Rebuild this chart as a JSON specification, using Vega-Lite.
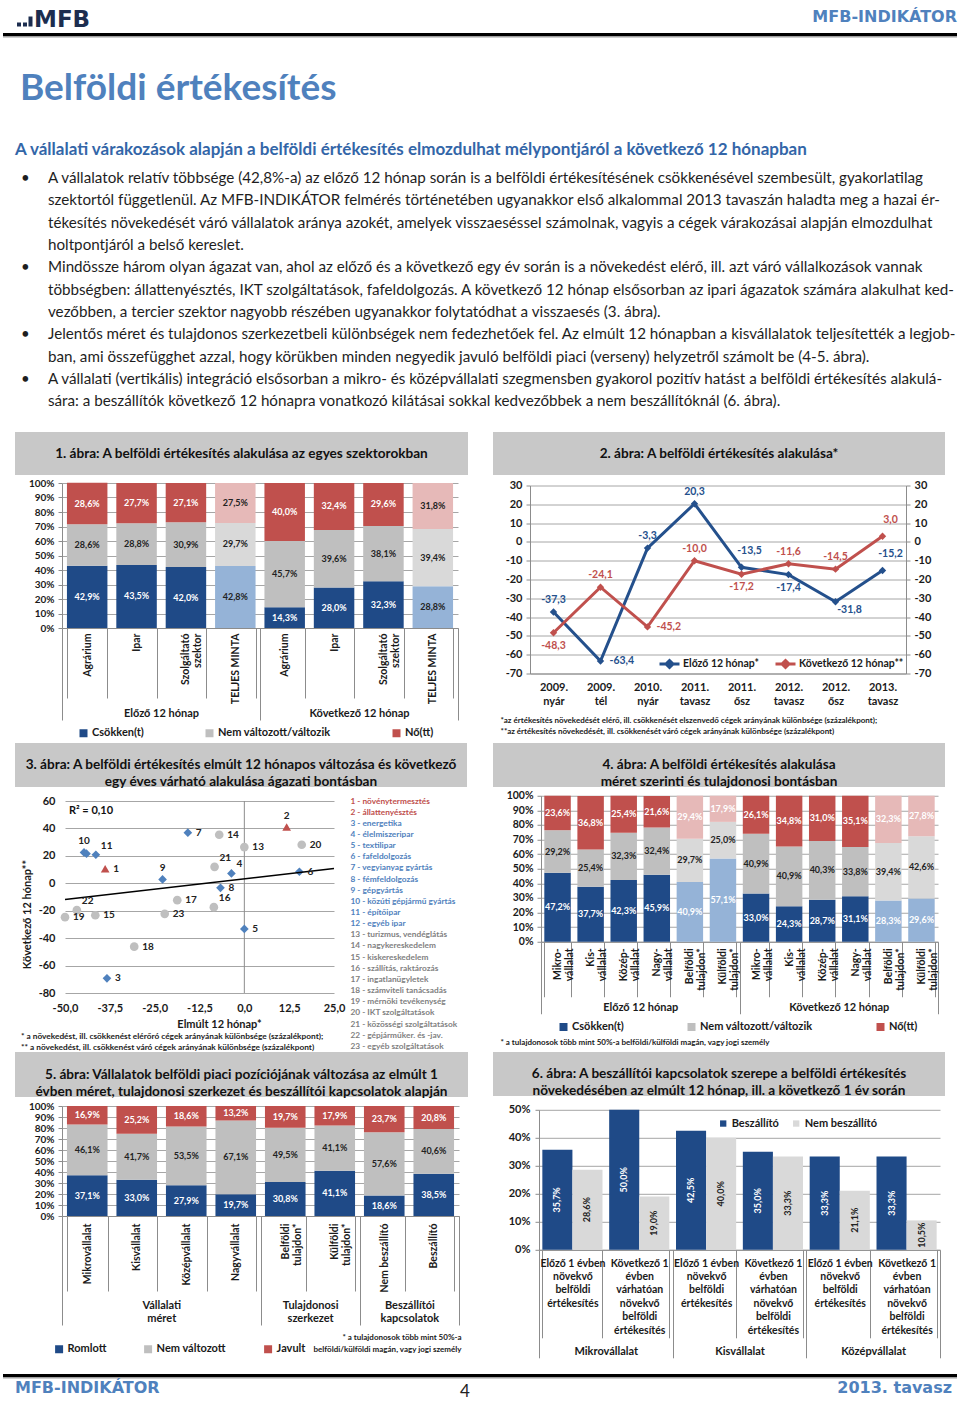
{
  "$schema": "https://vega.github.io/schema/vega-lite/v6.json",
  "background": "white",
  "padding": 0,
  "spacing": 0,
  "align": "none",
  "resolve": {"scale": {"color": "independent", "fill": "independent", "shape": "independent"}},
  "datasets": {
    "body": [
      {"line": 1, "t": "A vállalatok relatív többsége (42,8%-a) az előző 12 hónap során is a belföldi értékesítésének csökkenésével szembesült, gyakorlatilag"},
      {"line": 2, "t": "szektortól függetlenül. Az MFB-INDIKÁTOR felmérés történetében ugyanakkor első alkalommal 2013 tavaszán haladta meg a hazai ér-"},
      {"line": 3, "t": "tékesítés növekedését váró vállalatok aránya azokét, amelyek visszaeséssel számolnak, vagyis a cégek várakozásai alapján elmozdulhat"},
      {"line": 4, "t": "holtpontjáról a belső kereslet."},
      {"line": 5, "t": "Mindössze három olyan ágazat van, ahol az előző és a következő egy év során is a növekedést elérő, ill. azt váró vállalkozások vannak"},
      {"line": 6, "t": "többségben: állattenyésztés, IKT szolgáltatások, fafeldolgozás. A következő 12 hónap elsősorban az ipari ágazatok számára alakulhat ked-"},
      {"line": 7, "t": "vezőbben, a tercier szektor nagyobb részében ugyanakkor folytatódhat a visszaesés (3. ábra)."},
      {"line": 8, "t": "Jelentős méret és tulajdonos szerkezetbeli különbségek nem fedezhetőek fel. Az elmúlt 12 hónapban a kisvállalatok teljesítették a legjob-"},
      {"line": 9, "t": "ban, ami összefügghet azzal, hogy körükben minden negyedik javuló belföldi piaci (verseny) helyzetről számolt be (4-5. ábra)."},
      {"line": 10, "t": "A vállalati (vertikális) integráció elsősorban a mikro- és középvállalati szegmensben gyakorol pozitív hatást a belföldi értékesítés alakulá-"},
      {"line": 11, "t": "sára: a beszállítók következő 12 hónapra vonatkozó kilátásai sokkal kedvezőbbek a nem beszállítóknál (6. ábra)."}
    ],
    "c1": [
      {"k": "E|Agrárium", "s": "Csökken(t)", "v": 0.429},
      {"k": "E|Agrárium", "s": "Nem változott/változik", "v": 0.286},
      {"k": "E|Agrárium", "s": "Nő(tt)", "v": 0.286},
      {"k": "E|Ipar", "s": "Csökken(t)", "v": 0.435},
      {"k": "E|Ipar", "s": "Nem változott/változik", "v": 0.288},
      {"k": "E|Ipar", "s": "Nő(tt)", "v": 0.277},
      {"k": "E|Szolgáltató~szektor", "s": "Csökken(t)", "v": 0.420},
      {"k": "E|Szolgáltató~szektor", "s": "Nem változott/változik", "v": 0.309},
      {"k": "E|Szolgáltató~szektor", "s": "Nő(tt)", "v": 0.271},
      {"k": "E|TELJES MINTA", "s": "Csökken(t) – teljes minta", "v": 0.428},
      {"k": "E|TELJES MINTA", "s": "Nem változott/változik – teljes minta", "v": 0.297},
      {"k": "E|TELJES MINTA", "s": "Nő(tt) – teljes minta", "v": 0.275},
      {"k": "K|Agrárium", "s": "Csökken(t)", "v": 0.143},
      {"k": "K|Agrárium", "s": "Nem változott/változik", "v": 0.457},
      {"k": "K|Agrárium", "s": "Nő(tt)", "v": 0.400},
      {"k": "K|Ipar", "s": "Csökken(t)", "v": 0.280},
      {"k": "K|Ipar", "s": "Nem változott/változik", "v": 0.396},
      {"k": "K|Ipar", "s": "Nő(tt)", "v": 0.324},
      {"k": "K|Szolgáltató~szektor", "s": "Csökken(t)", "v": 0.323},
      {"k": "K|Szolgáltató~szektor", "s": "Nem változott/változik", "v": 0.381},
      {"k": "K|Szolgáltató~szektor", "s": "Nő(tt)", "v": 0.296},
      {"k": "K|TELJES MINTA", "s": "Csökken(t) – teljes minta", "v": 0.288},
      {"k": "K|TELJES MINTA", "s": "Nem változott/változik – teljes minta", "v": 0.394},
      {"k": "K|TELJES MINTA", "s": "Nő(tt) – teljes minta", "v": 0.318}
    ],
    "c2": [
      {"p": "2009.~nyár", "s": "Előző 12 hónap*", "v": -37.3, "id": "E1"},
      {"p": "2009.~tél", "s": "Előző 12 hónap*", "v": -63.4, "id": "E2"},
      {"p": "2010.~nyár", "s": "Előző 12 hónap*", "v": -3.3, "id": "E3"},
      {"p": "2011.~tavasz", "s": "Előző 12 hónap*", "v": 20.3, "id": "E4"},
      {"p": "2011.~ősz", "s": "Előző 12 hónap*", "v": -13.5, "id": "E5"},
      {"p": "2012.~tavasz", "s": "Előző 12 hónap*", "v": -17.4, "id": "E6"},
      {"p": "2012.~ősz", "s": "Előző 12 hónap*", "v": -31.8, "id": "E7"},
      {"p": "2013.~tavasz", "s": "Előző 12 hónap*", "v": -15.2, "id": "E8"},
      {"p": "2009.~nyár", "s": "Következő 12 hónap**", "v": -48.3, "id": "K1"},
      {"p": "2009.~tél", "s": "Következő 12 hónap**", "v": -24.1, "id": "K2"},
      {"p": "2010.~nyár", "s": "Következő 12 hónap**", "v": -45.2, "id": "K3"},
      {"p": "2011.~tavasz", "s": "Következő 12 hónap**", "v": -10.0, "id": "K4"},
      {"p": "2011.~ősz", "s": "Következő 12 hónap**", "v": -17.2, "id": "K5"},
      {"p": "2012.~tavasz", "s": "Következő 12 hónap**", "v": -11.6, "id": "K6"},
      {"p": "2012.~ősz", "s": "Következő 12 hónap**", "v": -14.5, "id": "K7"},
      {"p": "2013.~tavasz", "s": "Következő 12 hónap**", "v": 3.0, "id": "K8"}
    ],
    "s3": [
      {"id": 1, "x": -38.8, "y": 10.6, "g": "Agrár", "lab": "1 - növénytermesztés"},
      {"id": 2, "x": 11.8, "y": 41.0, "g": "Agrár", "lab": "2 - állattenyésztés"},
      {"id": 3, "x": -38.3, "y": -69.3, "g": "Ipar", "lab": "3 - energetika"},
      {"id": 4, "x": -3.6, "y": 7.2, "g": "Ipar", "lab": "4 - élelmiszeripar"},
      {"id": 5, "x": 0.0, "y": -33.3, "g": "Ipar", "lab": "5 - textilipar"},
      {"id": 6, "x": 15.35, "y": 8.4, "g": "Ipar", "lab": "6 - fafeldolgozás"},
      {"id": 7, "x": -15.75, "y": 36.9, "g": "Ipar", "lab": "7 - vegyianyag gyártás"},
      {"id": 8, "x": -6.65, "y": -3.3, "g": "Ipar", "lab": "8 - fémfeldolgozás"},
      {"id": 9, "x": -22.8, "y": 2.8, "g": "Ipar", "lab": "9 - gépgyártás"},
      {"id": 10, "x": -44.7, "y": 22.5, "g": "Ipar", "lab": "10 - közúti gépjármű gyártás"},
      {"id": 11, "x": -41.4, "y": 20.8, "g": "Ipar", "lab": "11 - építőipar"},
      {"id": 12, "x": -44.0, "y": 21.6, "g": "Ipar", "lab": "12 - egyéb ipar"},
      {"id": 13, "x": 0.0, "y": 26.4, "g": "Szolgáltatás", "lab": "13 - turizmus, vendéglátás"},
      {"id": 14, "x": -7.0, "y": 35.4, "g": "Szolgáltatás", "lab": "14 - nagykereskedelem"},
      {"id": 15, "x": -41.55, "y": -23.3, "g": "Szolgáltatás", "lab": "15 - kiskereskedelem"},
      {"id": 16, "x": -8.5, "y": -17.4, "g": "Szolgáltatás", "lab": "16 - szállítás, raktározás"},
      {"id": 17, "x": -18.7, "y": -12.3, "g": "Szolgáltatás", "lab": "17 - ingatlanügyletek"},
      {"id": 18, "x": -30.7, "y": -46.2, "g": "Szolgáltatás", "lab": "18 - számviteli tanácsadás"},
      {"id": 19, "x": -50.0, "y": -24.7, "g": "Szolgáltatás", "lab": "19 - mérnöki tevékenység"},
      {"id": 20, "x": 16.0, "y": 28.1, "g": "Szolgáltatás", "lab": "20 - IKT szolgáltatások"},
      {"id": 21, "x": -8.3, "y": 12.0, "g": "Szolgáltatás", "lab": "21 - közösségi szolgáltatások"},
      {"id": 22, "x": -46.7, "y": -19.6, "g": "Szolgáltatás", "lab": "22 - gépjárműker. és -jav."},
      {"id": 23, "x": -22.2, "y": -22.3, "g": "Szolgáltatás", "lab": "23 - egyéb szolgáltatások"}
    ],
    "c4": [
      {"k": "E|Mikro-~vállalat", "s": "Csökken(t)", "v": 0.472},
      {"k": "E|Mikro-~vállalat", "s": "Nem változott/változik", "v": 0.292},
      {"k": "E|Mikro-~vállalat", "s": "Nő(tt)", "v": 0.236},
      {"k": "E|Kis-~vállalat", "s": "Csökken(t)", "v": 0.377},
      {"k": "E|Kis-~vállalat", "s": "Nem változott/változik", "v": 0.254},
      {"k": "E|Kis-~vállalat", "s": "Nő(tt)", "v": 0.368},
      {"k": "E|Közép-~vállalat", "s": "Csökken(t)", "v": 0.423},
      {"k": "E|Közép-~vállalat", "s": "Nem változott/változik", "v": 0.323},
      {"k": "E|Közép-~vállalat", "s": "Nő(tt)", "v": 0.254},
      {"k": "E|Nagy-~vállalat", "s": "Csökken(t)", "v": 0.459},
      {"k": "E|Nagy-~vállalat", "s": "Nem változott/változik", "v": 0.324},
      {"k": "E|Nagy-~vállalat", "s": "Nő(tt)", "v": 0.216},
      {"k": "E|Belföldi~tulajdon*", "s": "Csökken(t) – tulajdon", "v": 0.409},
      {"k": "E|Belföldi~tulajdon*", "s": "Nem változott/változik – tulajdon", "v": 0.297},
      {"k": "E|Belföldi~tulajdon*", "s": "Nő(tt) – tulajdon", "v": 0.294},
      {"k": "E|Külföldi~tulajdon*", "s": "Csökken(t) – tulajdon", "v": 0.571},
      {"k": "E|Külföldi~tulajdon*", "s": "Nem változott/változik – tulajdon", "v": 0.250},
      {"k": "E|Külföldi~tulajdon*", "s": "Nő(tt) – tulajdon", "v": 0.179},
      {"k": "K|Mikro-~vállalat", "s": "Csökken(t)", "v": 0.330},
      {"k": "K|Mikro-~vállalat", "s": "Nem változott/változik", "v": 0.409},
      {"k": "K|Mikro-~vállalat", "s": "Nő(tt)", "v": 0.261},
      {"k": "K|Kis-~vállalat", "s": "Csökken(t)", "v": 0.243},
      {"k": "K|Kis-~vállalat", "s": "Nem változott/változik", "v": 0.409},
      {"k": "K|Kis-~vállalat", "s": "Nő(tt)", "v": 0.348},
      {"k": "K|Közép-~vállalat", "s": "Csökken(t)", "v": 0.287},
      {"k": "K|Közép-~vállalat", "s": "Nem változott/változik", "v": 0.403},
      {"k": "K|Közép-~vállalat", "s": "Nő(tt)", "v": 0.310},
      {"k": "K|Nagy-~vállalat", "s": "Csökken(t)", "v": 0.311},
      {"k": "K|Nagy-~vállalat", "s": "Nem változott/változik", "v": 0.338},
      {"k": "K|Nagy-~vállalat", "s": "Nő(tt)", "v": 0.351},
      {"k": "K|Belföldi~tulajdon*", "s": "Csökken(t) – tulajdon", "v": 0.283},
      {"k": "K|Belföldi~tulajdon*", "s": "Nem változott/változik – tulajdon", "v": 0.394},
      {"k": "K|Belföldi~tulajdon*", "s": "Nő(tt) – tulajdon", "v": 0.323},
      {"k": "K|Külföldi~tulajdon*", "s": "Csökken(t) – tulajdon", "v": 0.296},
      {"k": "K|Külföldi~tulajdon*", "s": "Nem változott/változik – tulajdon", "v": 0.426},
      {"k": "K|Külföldi~tulajdon*", "s": "Nő(tt) – tulajdon", "v": 0.278}
    ],
    "c5": [
      {"k": "Mikrovállalat", "s": "Romlott", "v": 0.371},
      {"k": "Mikrovállalat", "s": "Nem változott", "v": 0.461},
      {"k": "Mikrovállalat", "s": "Javult", "v": 0.169},
      {"k": "Kisvállalat", "s": "Romlott", "v": 0.330},
      {"k": "Kisvállalat", "s": "Nem változott", "v": 0.417},
      {"k": "Kisvállalat", "s": "Javult", "v": 0.252},
      {"k": "Középvállalat", "s": "Romlott", "v": 0.279},
      {"k": "Középvállalat", "s": "Nem változott", "v": 0.535},
      {"k": "Középvállalat", "s": "Javult", "v": 0.186},
      {"k": "Nagyvállalat", "s": "Romlott", "v": 0.197},
      {"k": "Nagyvállalat", "s": "Nem változott", "v": 0.671},
      {"k": "Nagyvállalat", "s": "Javult", "v": 0.132},
      {"k": "Belföldi~tulajdon*", "s": "Romlott", "v": 0.308},
      {"k": "Belföldi~tulajdon*", "s": "Nem változott", "v": 0.495},
      {"k": "Belföldi~tulajdon*", "s": "Javult", "v": 0.197},
      {"k": "Külföldi~tulajdon*", "s": "Romlott", "v": 0.411},
      {"k": "Külföldi~tulajdon*", "s": "Nem változott", "v": 0.411},
      {"k": "Külföldi~tulajdon*", "s": "Javult", "v": 0.179},
      {"k": "Nem beszállító", "s": "Romlott", "v": 0.186},
      {"k": "Nem beszállító", "s": "Nem változott", "v": 0.576},
      {"k": "Nem beszállító", "s": "Javult", "v": 0.237},
      {"k": "Beszállító", "s": "Romlott", "v": 0.385},
      {"k": "Beszállító", "s": "Nem változott", "v": 0.406},
      {"k": "Beszállító", "s": "Javult", "v": 0.208}
    ],
    "g5": [
      {"g": "Vállalati méret", "n": 4},
      {"g": "Tulajdonosi szerkezet", "n": 2},
      {"g": "Beszállítói kapcsolatok", "n": 2}
    ],
    "c6": [
      {"k": "M|Előző 1 évben~növekvő~belföldi~értékesítés", "g": "Mikrovállalat", "s": "Beszállító", "v": 0.357},
      {"k": "M|Előző 1 évben~növekvő~belföldi~értékesítés", "g": "Mikrovállalat", "s": "Nem beszállító", "v": 0.286},
      {"k": "M|Következő 1~évben~várhatóan~növekvő~belföldi~értékesítés", "g": "Mikrovállalat", "s": "Beszállító", "v": 0.500},
      {"k": "M|Következő 1~évben~várhatóan~növekvő~belföldi~értékesítés", "g": "Mikrovállalat", "s": "Nem beszállító", "v": 0.190},
      {"k": "K|Előző 1 évben~növekvő~belföldi~értékesítés", "g": "Kisvállalat", "s": "Beszállító", "v": 0.425},
      {"k": "K|Előző 1 évben~növekvő~belföldi~értékesítés", "g": "Kisvállalat", "s": "Nem beszállító", "v": 0.400},
      {"k": "K|Következő 1~évben~várhatóan~növekvő~belföldi~értékesítés", "g": "Kisvállalat", "s": "Beszállító", "v": 0.350},
      {"k": "K|Következő 1~évben~várhatóan~növekvő~belföldi~értékesítés", "g": "Kisvállalat", "s": "Nem beszállító", "v": 0.333},
      {"k": "Z|Előző 1 évben~növekvő~belföldi~értékesítés", "g": "Középvállalat", "s": "Beszállító", "v": 0.333},
      {"k": "Z|Előző 1 évben~növekvő~belföldi~értékesítés", "g": "Középvállalat", "s": "Nem beszállító", "v": 0.211},
      {"k": "Z|Következő 1~évben~várhatóan~növekvő~belföldi~értékesítés", "g": "Középvállalat", "s": "Beszállító", "v": 0.333},
      {"k": "Z|Következő 1~évben~várhatóan~növekvő~belföldi~értékesítés", "g": "Középvállalat", "s": "Nem beszállító", "v": 0.105}
    ]
  },
  "vconcat": [
    {
      "width": 960, "height": 432,
      "data": {"values": [{}]},
      "layer": [
        {"mark": {"type": "rect", "x": 17, "x2": 21, "y": 22.5, "y2": 26.5, "color": "#1c2d4f"}, "encoding": {}},
        {"mark": {"type": "rect", "x": 23, "x2": 27, "y": 22.5, "y2": 26.5, "color": "#1c2d4f"}, "encoding": {}},
        {"mark": {"type": "rect", "x": 28.5, "x2": 32.5, "y": 16.5, "y2": 26.5, "color": "#1c2d4f"}, "encoding": {}},
        {"mark": {"type": "text", "x": 34, "y": 26.7, "align": "left", "baseline": "alphabetic", "text": "MFB", "font": "DejaVu Sans", "fontWeight": "bold", "fontSize": 23, "color": "#1c2d4f"}, "encoding": {}},
        {"mark": {"type": "text", "x": 957, "y": 17, "align": "right", "baseline": "middle", "text": "MFB-INDIKÁTOR", "font": "DejaVu Sans", "fontWeight": "bold", "fontSize": 16, "color": "#4f81bd"}, "encoding": {}},
        {"mark": {"type": "rect", "x": 3, "x2": 957, "y": 33, "y2": 36, "color": "#000000"}, "encoding": {}},
        {"mark": {"type": "rect", "x": 3, "x2": 957, "y": 36, "y2": 37.5, "color": "#a0a0a0"}, "encoding": {}},
        {"mark": {"type": "text", "x": 20, "y": 100, "align": "left", "baseline": "alphabetic", "text": "Belföldi értékesítés", "fontWeight": "bold", "fontSize": 37, "color": "#4f81bd"}, "encoding": {}},
        {"mark": {"type": "text", "x": 15, "y": 150, "align": "left", "baseline": "middle", "text": "A vállalati várakozások alapján a belföldi értékesítés elmozdulhat mélypontjáról a következő 12 hónapban", "fontWeight": "bold", "fontSize": 17, "color": "#3366a8"}, "encoding": {}},
        {
          "data": {"name": "body"},
          "mark": {"type": "text", "x": 48, "align": "left", "baseline": "middle", "fontSize": 15.2, "color": "#1e1e1e"},
          "encoding": {
            "y": {"field": "line", "type": "quantitative", "scale": {"domain": [1, 11], "range": [178, 401.3]}, "axis": null},
            "text": {"field": "t", "type": "nominal"}
          }
        },
        {
          "data": {"values": [{"line": 1}, {"line": 5}, {"line": 8}, {"line": 10}]},
          "mark": {"type": "text", "x": 21, "align": "left", "baseline": "middle", "text": "•", "fontSize": 15, "color": "#1e1e1e"},
          "encoding": {"y": {"field": "line", "type": "quantitative", "axis": null}}
        }
      ]
    },
    {
      "spacing": 14,
      "align": "none",
      "resolve": {"scale": {"color": "independent", "fill": "independent", "shape": "independent"}},
      "hconcat": [
        {"width": 1, "height": 311, "data": {"values": []}, "mark": "point", "encoding": {}},
        {
          "spacing": 25,
          "align": "none",
          "resolve": {"scale": {"color": "independent", "fill": "independent", "shape": "independent"}},
          "hconcat": [
            {
              "spacing": 3,
              "align": "none",
              "resolve": {"scale": {"color": "independent", "fill": "independent", "shape": "independent"}},
              "vconcat": [
                {
                  "width": 396, "height": 43,
                  "data": {"values": [{"t": "1. ábra: A belföldi értékesítés alakulása  az egyes szektorokban"}]},
                  "layer": [
                    {"mark": {"type": "rect", "x": -47, "x2": 406, "y": 0, "y2": 43, "color": "#c8c8c8"}, "encoding": {}},
                    {"mark": {"type": "text", "x": 179.5, "y": 21.5, "fontWeight": "bold", "fontSize": 13.6, "color": "#111111"}, "encoding": {"text": {"field": "t", "type": "nominal"}}}
                  ]
                },
                {
                  "width": 396, "height": 145,
                  "layer": [
                    {
                      "data": {"name": "c1"},
                      "transform": [{"stack": "v", "groupby": ["k"], "sort": [{"field": "s"}], "as": ["v0", "v1"]}],
                      "layer": [
                        {
                          "mark": {"type": "bar"},
                          "encoding": {
                            "x": {"field": "k", "type": "nominal", "sort": null, "title": null, "scale": {"paddingInner": 0.18, "paddingOuter": 0.1},
                              "axis": {"labelAngle": -90, "labelAlign": "right", "labelBaseline": "middle", "labelExpr": "split(slice(datum.label, 2), '~')", "labelFontSize": 10.5, "labelLineHeight": 12, "tickBand": "extent", "tickSize": 70, "labelPadding": -65, "labelOverlap": false, "labelLimit": 0}},
                            "y": {"field": "v0", "type": "quantitative", "title": null, "scale": {"domain": [0, 1], "nice": false},
                              "axis": {"format": ".0%", "values": [0, 0.1, 0.2, 0.3, 0.4, 0.5, 0.6, 0.7, 0.8, 0.9, 1], "tickCount": 20, "tickSize": 4, "labelPadding": 4, "labelFontSize": 10, "grid": true, "labelOverlap": false, "minExtent": 47, "maxExtent": 47}},
                            "y2": {"field": "v1"},
                            "color": {"field": "s", "type": "nominal",
                              "scale": {"domain": ["Csökken(t)", "Nem változott/változik", "Nő(tt)", "Csökken(t) – teljes minta", "Nem változott/változik – teljes minta", "Nő(tt) – teljes minta"], "range": ["#1f4a87", "#bfbfbf", "#c0504d", "#95b3d7", "#d9d9d9", "#e6b9b8"]},
                              "legend": {"orient": "none", "legendX": 16, "legendY": 244.5, "direction": "horizontal", "title": null, "values": ["Csökken(t)", "Nem változott/változik", "Nő(tt)"], "symbolType": "square", "symbolSize": 64, "symbolStrokeWidth": 0, "labelFontSize": 11, "labelFontWeight": "bold", "columnPadding": 60, "padding": 0, "labelOffset": 3}}
                          }
                        },
                        {
                          "transform": [{"fold": ["v0", "v1"], "as": ["end", "pos"]}],
                          "mark": {"type": "text", "fontWeight": "bold", "fontSize": 9},
                          "encoding": {
                            "x": {"field": "k", "type": "nominal", "sort": null, "title": null},
                            "y": {"field": "pos", "type": "quantitative", "aggregate": "mean", "title": null},
                            "text": {"field": "v", "type": "quantitative", "format": ".1%"},
                            "fill": {"field": "s", "type": "nominal",
                              "scale": {"domain": ["Csökken(t)", "Nem változott/változik", "Nő(tt)", "Csökken(t) – teljes minta", "Nem változott/változik – teljes minta", "Nő(tt) – teljes minta"], "range": ["#ffffff", "#222222", "#ffffff", "#222222", "#222222", "#222222"]},
                              "legend": null}
                          }
                        }
                      ]
                    },
                    {
                      "data": {"values": [{"g": "Előző 12 hónap"}, {"g": "Következő 12 hónap"}]},
                      "mark": {"type": "tick", "opacity": 0},
                      "encoding": {
                        "x": {"field": "g", "type": "nominal", "sort": null, "title": null, "scale": {"type": "band", "paddingInner": 0, "paddingOuter": 0},
                          "axis": {"orient": "bottom", "domain": false, "labelAngle": 0, "tickBand": "extent", "tickSize": 92, "labelPadding": -13, "labelFontSize": 11, "labelOverlap": false}},
                        "y": {"datum": 0, "type": "quantitative", "title": null,
                          "axis": {"format": ".0%", "values": [0, 0.1, 0.2, 0.3, 0.4, 0.5, 0.6, 0.7, 0.8, 0.9, 1], "tickCount": 20, "tickSize": 4, "labelPadding": 4, "labelFontSize": 10, "grid": true, "labelOverlap": false, "minExtent": 47, "maxExtent": 47}}
                      }
                    }
                  ],
                  "resolve": {"scale": {"x": "independent"}, "axis": {"x": "independent"}}
                }
              ]
            },
            {
              "spacing": 4.5,
              "align": "none",
              "resolve": {"scale": {"color": "independent", "fill": "independent", "shape": "independent"}},
              "vconcat": [
                {
                  "width": 376, "height": 43,
                  "data": {"values": [{"t": "2. ábra: A belföldi értékesítés alakulása*"}]},
                  "layer": [
                    {"mark": {"type": "rect", "x": -37, "x2": 415, "y": 0, "y2": 43, "color": "#c8c8c8"}, "encoding": {}},
                    {"mark": {"type": "text", "x": 189, "y": 21.5, "fontWeight": "bold", "fontSize": 13.6, "color": "#111111"}, "encoding": {"text": {"field": "t", "type": "nominal"}}}
                  ]
                },
                {
                  "width": 376, "height": 188,
                  "data": {"name": "c2"},
                  "layer": [
                    {
                      "mark": {"type": "line", "strokeWidth": 3, "point": {"shape": "diamond", "filled": true, "size": 55}},
                      "encoding": {
                        "x": {"field": "p", "type": "ordinal", "sort": null,
                          "title": ["*az értékesítés növekedését elérő, ill. csökkenését elszenvedő cégek arányának különbsége (százalékpont);", "**az értékesítés növekedését, ill. csökkenését váró cégek arányának különbsége (százalékpont)"],
                          "scale": {"type": "point", "padding": 0.5},
                          "axis": {"labelAngle": 0, "labelExpr": "split(datum.label, '~')", "labelFontSize": 11, "labelLineHeight": 14, "ticks": false, "labelPadding": 8, "labelOverlap": false, "titleFontSize": 8, "titleFontWeight": "bold", "titleAnchor": "start", "titleAlign": "left", "titleX": -30, "titlePadding": 10, "titleLineHeight": 11, "titleLimit": 1000}},
                        "y": {"field": "v", "type": "quantitative", "title": null, "scale": {"domain": [-70, 30], "nice": false, "zero": false},
                          "axis": {"values": [-70, -60, -50, -40, -30, -20, -10, 0, 10, 20, 30], "tickCount": 20, "tickSize": 4, "labelPadding": 4, "labelFontSize": 11, "grid": true, "labelOverlap": false, "minExtent": 37, "maxExtent": 37}},
                        "color": {"field": "s", "type": "nominal", "scale": {"domain": ["Előző 12 hónap*", "Következő 12 hónap**"], "range": ["#24508c", "#c0504d"]},
                          "legend": {"orient": "none", "legendX": 128, "legendY": 167, "direction": "horizontal", "title": null, "symbolType": "M-1,0H1M0,-0.35L0.35,0L0,0.35L-0.35,0Z", "symbolSize": 400, "symbolStrokeWidth": 3, "labelFontSize": 10.5, "labelFontWeight": "bold", "columnPadding": 10, "padding": 0, "labelOffset": 2}}
                      }
                    },
                    {
                      "transform": [{"filter": {"field": "id", "oneOf": ["E1", "E3", "E4", "K2", "K4", "K6", "K7"]}}],
                      "mark": {"type": "text", "dy": -12, "fontWeight": "bold", "fontSize": 10.5},
                      "encoding": {
                        "x": {"field": "p", "type": "ordinal", "sort": null},
                        "y": {"field": "v", "type": "quantitative", "title": null, "axis": {"orient": "right", "values": [-70, -60, -50, -40, -30, -20, -10, 0, 10, 20, 30], "tickCount": 20, "tickSize": 4, "labelPadding": 4, "labelFontSize": 11, "grid": false, "labelOverlap": false}},
                        "text": {"field": "v", "type": "quantitative", "format": ".1f"},
                        "fill": {"field": "s", "type": "nominal", "scale": {"domain": ["Előző 12 hónap*", "Következő 12 hónap**"], "range": ["#24508c", "#c0504d"]}, "legend": null}
                      }
                    },
                    {
                      "transform": [{"filter": {"field": "id", "oneOf": ["E5", "E8", "K8"]}}],
                      "mark": {"type": "text", "dy": -16, "dx": 8, "fontWeight": "bold", "fontSize": 10.5},
                      "encoding": {
                        "x": {"field": "p", "type": "ordinal", "sort": null},
                        "y": {"field": "v", "type": "quantitative", "title": null, "axis": null},
                        "text": {"field": "v", "type": "quantitative", "format": ".1f"},
                        "fill": {"field": "s", "type": "nominal", "legend": null}
                      }
                    },
                    {
                      "transform": [{"filter": {"field": "id", "oneOf": ["E6", "K1", "K5"]}}],
                      "mark": {"type": "text", "dy": 13, "fontWeight": "bold", "fontSize": 10.5},
                      "encoding": {
                        "x": {"field": "p", "type": "ordinal", "sort": null},
                        "y": {"field": "v", "type": "quantitative", "title": null, "axis": null},
                        "text": {"field": "v", "type": "quantitative", "format": ".1f"},
                        "fill": {"field": "s", "type": "nominal", "legend": null}
                      }
                    },
                    {
                      "transform": [{"filter": {"field": "id", "oneOf": ["E2", "K3"]}}],
                      "mark": {"type": "text", "dx": 9, "align": "left", "fontWeight": "bold", "fontSize": 10.5},
                      "encoding": {
                        "x": {"field": "p", "type": "ordinal", "sort": null},
                        "y": {"field": "v", "type": "quantitative", "title": null, "axis": null},
                        "text": {"field": "v", "type": "quantitative", "format": ".1f"},
                        "fill": {"field": "s", "type": "nominal", "legend": null}
                      }
                    },
                    {
                      "transform": [{"filter": {"field": "id", "oneOf": ["E7"]}}],
                      "mark": {"type": "text", "dx": 14, "dy": 8, "fontWeight": "bold", "fontSize": 10.5},
                      "encoding": {
                        "x": {"field": "p", "type": "ordinal", "sort": null},
                        "y": {"field": "v", "type": "quantitative", "title": null, "axis": null},
                        "text": {"field": "v", "type": "quantitative", "format": ".1f"},
                        "fill": {"field": "s", "type": "nominal", "legend": null}
                      }
                    }
                  ],
                  "resolve": {"axis": {"y": "independent"}}
                }
              ]
            }
          ]
        }
      ]
    },
    {
      "spacing": 14,
      "align": "none",
      "resolve": {"scale": {"color": "independent", "fill": "independent", "shape": "independent"}},
      "hconcat": [
        {"width": 1, "height": 309, "data": {"values": []}, "mark": "point", "encoding": {}},
        {
          "spacing": 26,
          "align": "none",
          "resolve": {"scale": {"color": "independent", "fill": "independent", "shape": "independent"}},
          "hconcat": [
            {
              "spacing": 6,
              "align": "none",
              "resolve": {"scale": {"color": "independent", "fill": "independent", "shape": "independent"}},
              "vconcat": [
                {"width": 452, "height": 44, "view": {"fill": "#c8c8c8", "stroke": null}, "data": {"values": [{"t": "3. ábra: A belföldi értékesítés elmúlt 12 hónapos  változása  és következő\negy éves várható  alakulása  ágazati  bontásban"}]}, "mark": {"type": "text", "fontWeight": "bold", "fontSize": 13.6, "color": "#111111", "lineBreak": "\n", "lineHeight": 17}, "encoding": {"text": {"field": "t", "type": "nominal"}}},
                {
                  "spacing": 5,
                  "align": "none",
                  "resolve": {"scale": {"color": "independent", "fill": "independent", "shape": "independent"}},
                  "hconcat": [
                    {"width": 1, "height": 1, "data": {"values": []}, "mark": "point", "encoding": {}},
                    {
                      "width": 269, "height": 192,
                      "title": {"text": ["* a növekedést, ill. csökkenést  elérőró cégek arányának különbsége (százalékpont);", "** a növekedést, ill. csökkenést  váró cégek arányának különbsége (százalékpont)"], "orient": "bottom", "anchor": "start", "frame": "bounds", "fontSize": 8.3, "fontWeight": "bold", "color": "#222222", "lineHeight": 11, "offset": 3, "limit": 1000},
                      "layer": [
                        {
                          "data": {"values": [{}]},
                          "mark": {"type": "rule", "color": "#8c8c8c", "strokeWidth": 1},
                          "encoding": {"x": {"datum": 0, "type": "quantitative", "title": "Elmúlt 12 hónap*",
                            "axis": {"values": [-50, -37.5, -25, -12.5, 0, 12.5, 25], "tickCount": 20, "format": ".1f", "grid": false, "domain": false, "ticks": false, "labelPadding": 9, "labelFontSize": 11, "labelFlush": false, "labelOverlap": false, "titleFontSize": 11, "titlePadding": 5, "titleX": 154}}}
                        },
                        {
                          "data": {"name": "s3"},
                          "mark": {"type": "point", "filled": true, "size": 75, "opacity": 1},
                          "encoding": {
                            "x": {"field": "x", "type": "quantitative", "title": "Elmúlt 12 hónap*", "scale": {"domain": [-50, 25], "nice": false, "zero": false},
                              "axis": {"values": [-50, -37.5, -25, -12.5, 0, 12.5, 25], "tickCount": 20, "format": ".1f", "grid": false, "domain": false, "ticks": false, "labelPadding": 9, "labelFontSize": 11, "labelFlush": false, "labelOverlap": false, "titleFontSize": 11, "titlePadding": 5, "titleX": 154}},
                            "y": {"field": "y", "type": "quantitative", "title": "Következő 12 hónap**", "scale": {"domain": [-80, 60], "nice": false, "zero": false},
                              "axis": {"values": [-80, -60, -40, -20, 0, 20, 40, 60], "tickCount": 20, "grid": true, "domain": false, "ticks": false, "labelPadding": 10, "labelFontSize": 11, "labelOverlap": false, "titleFontSize": 11, "titlePadding": 8, "minExtent": 25, "maxExtent": 25, "titleY": 113}},
                            "shape": {"field": "g", "type": "nominal", "scale": {"domain": ["Agrár", "Ipar", "Szolgáltatás"], "range": ["triangle-up", "diamond", "circle"]}, "legend": null},
                            "color": {"field": "g", "type": "nominal", "scale": {"domain": ["Agrár", "Ipar", "Szolgáltatás"], "range": ["#c0504d", "#4f81bd", "#bfbfbf"]}, "legend": null}
                          }
                        },
                        {
                          "data": {"values": [{"x": -50, "y": -11.8}, {"x": 25, "y": 10.8}]},
                          "mark": {"type": "line", "color": "#000000", "strokeWidth": 1.5},
                          "encoding": {"x": {"field": "x", "type": "quantitative"}, "y": {"field": "y", "type": "quantitative"}}
                        },
                        {
                          "data": {"name": "s3"},
                          "transform": [{"filter": {"field": "id", "oneOf": [1, 3, 5, 6, 7, 8, 13, 14, 15, 17, 18, 19, 20, 23]}}],
                          "mark": {"type": "text", "align": "left", "dx": 8, "fontWeight": "bold", "fontSize": 10, "color": "#222222"},
                          "encoding": {"x": {"field": "x", "type": "quantitative"}, "y": {"field": "y", "type": "quantitative"}, "text": {"field": "id", "type": "nominal"}}
                        },
                        {
                          "data": {"name": "s3"},
                          "transform": [{"filter": {"field": "id", "oneOf": [2, 9, 10]}}],
                          "mark": {"type": "text", "dy": -11, "fontWeight": "bold", "fontSize": 10, "color": "#222222"},
                          "encoding": {"x": {"field": "x", "type": "quantitative"}, "y": {"field": "y", "type": "quantitative"}, "text": {"field": "id", "type": "nominal"}}
                        },
                        {
                          "data": {"name": "s3"},
                          "transform": [{"filter": {"field": "id", "oneOf": [4, 11, 16, 21, 22]}}],
                          "mark": {"type": "text", "align": "left", "dx": 5, "dy": -9, "fontWeight": "bold", "fontSize": 10, "color": "#222222"},
                          "encoding": {"x": {"field": "x", "type": "quantitative"}, "y": {"field": "y", "type": "quantitative"}, "text": {"field": "id", "type": "nominal"}}
                        },
                        {
                          "data": {"values": [{}]},
                          "mark": {"type": "text", "text": "R² = 0,10", "align": "left", "fontWeight": "bold", "fontSize": 11, "color": "#111111"},
                          "encoding": {
                            "x": {"datum": -48.9, "type": "quantitative", "title": "Elmúlt 12 hónap*",
                              "axis": {"values": [-50, -37.5, -25, -12.5, 0, 12.5, 25], "tickCount": 20, "format": ".1f", "grid": false, "domain": false, "ticks": false, "labelPadding": 9, "labelFontSize": 11, "labelFlush": false, "labelOverlap": false, "titleFontSize": 11, "titlePadding": 5, "titleX": 154}},
                            "y": {"datum": 52.9, "type": "quantitative", "title": "Következő 12 hónap**",
                              "axis": {"values": [-80, -60, -40, -20, 0, 20, 40, 60], "tickCount": 20, "grid": true, "domain": false, "ticks": false, "labelPadding": 10, "labelFontSize": 11, "labelOverlap": false, "titleFontSize": 11, "titlePadding": 8, "minExtent": 25, "maxExtent": 25, "titleY": 113}}
                          }
                        }
                      ]
                    },
                    {
                      "width": 1, "height": 246.4,
                      "data": {"name": "s3"},
                      "mark": {"type": "text", "align": "left", "baseline": "middle", "fontSize": 8.3, "fontWeight": "bold"},
                      "encoding": {
                        "y": {"field": "id", "type": "ordinal", "sort": null, "axis": null, "scale": {"type": "point", "padding": 0.05}},
                        "text": {"field": "lab", "type": "nominal"},
                        "fill": {"field": "g", "type": "nominal", "scale": {"domain": ["Agrár", "Ipar", "Szolgáltatás"], "range": ["#c0504d", "#4f81bd", "#7f7f7f"]}, "legend": null}
                      }
                    }
                  ]
                }
              ]
            },
            {
              "spacing": 1.75,
              "align": "none",
              "resolve": {"scale": {"color": "independent", "fill": "independent", "shape": "independent"}},
              "vconcat": [
                {
                  "width": 397, "height": 44,
                  "data": {"values": [{"t": "4. ábra: A belföldi értékesítés alakulása\nméret szerinti és tulajdonosi  bontásban"}]},
                  "layer": [
                    {"mark": {"type": "rect", "x": -48, "x2": 404, "y": 0, "y2": 44, "color": "#c8c8c8"}, "encoding": {}},
                    {"mark": {"type": "text", "x": 178, "y": 22, "fontWeight": "bold", "fontSize": 13.6, "color": "#111111", "lineBreak": "\n", "lineHeight": 17}, "encoding": {"text": {"field": "t", "type": "nominal"}}}
                  ]
                },
                {
                  "width": 397, "height": 146,
                  "layer": [
                    {
                      "data": {"name": "c4"},
                      "transform": [{"stack": "v", "groupby": ["k"], "sort": [{"field": "s"}], "as": ["v0", "v1"]}],
                      "layer": [
                        {
                          "mark": {"type": "bar"},
                          "encoding": {
                            "x": {"field": "k", "type": "nominal", "sort": null, "title": null, "scale": {"paddingInner": 0.2, "paddingOuter": 0.1},
                              "axis": {"labelAngle": -90, "labelAlign": "right", "labelBaseline": "middle", "labelExpr": "split(slice(datum.label, 2), '~')", "labelFontSize": 10.5, "labelLineHeight": 12, "tickBand": "extent", "tickSize": 55, "labelPadding": -49, "labelOverlap": false, "labelLimit": 0}},
                            "y": {"field": "v0", "type": "quantitative", "title": null, "scale": {"domain": [0, 1], "nice": false},
                              "axis": {"format": ".0%", "values": [0, 0.1, 0.2, 0.3, 0.4, 0.5, 0.6, 0.7, 0.8, 0.9, 1], "tickCount": 20, "tickSize": 4, "labelPadding": 4, "labelFontSize": 10.5, "grid": true, "labelOverlap": false, "minExtent": 48, "maxExtent": 48}},
                            "y2": {"field": "v1"},
                            "color": {"field": "s", "type": "nominal",
                              "scale": {"domain": ["Csökken(t)", "Nem változott/változik", "Nő(tt)", "Csökken(t) – tulajdon", "Nem változott/változik – tulajdon", "Nő(tt) – tulajdon"], "range": ["#1f4a87", "#bfbfbf", "#c0504d", "#95b3d7", "#d9d9d9", "#e6b9b8"]},
                              "legend": {"orient": "none", "legendX": 17, "legendY": 225.5, "direction": "horizontal", "title": null, "values": ["Csökken(t)", "Nem változott/változik", "Nő(tt)"], "symbolType": "square", "symbolSize": 64, "symbolStrokeWidth": 0, "labelFontSize": 11, "labelFontWeight": "bold", "columnPadding": 62, "padding": 0, "labelOffset": 3}}
                          }
                        },
                        {
                          "transform": [{"fold": ["v0", "v1"], "as": ["end", "pos"]}],
                          "mark": {"type": "text", "fontWeight": "bold", "fontSize": 9},
                          "encoding": {
                            "x": {"field": "k", "type": "nominal", "sort": null, "title": null},
                            "y": {"field": "pos", "type": "quantitative", "aggregate": "mean", "title": null},
                            "text": {"field": "v", "type": "quantitative", "format": ".1%"},
                            "fill": {"field": "s", "type": "nominal",
                              "scale": {"domain": ["Csökken(t)", "Nem változott/változik", "Nő(tt)", "Csökken(t) – tulajdon", "Nem változott/változik – tulajdon", "Nő(tt) – tulajdon"], "range": ["#ffffff", "#222222", "#ffffff", "#ffffff", "#222222", "#ffffff"]},
                              "legend": null}
                          }
                        }
                      ]
                    },
                    {
                      "data": {"values": [{"g": "Előző 12 hónap"}, {"g": "Következő 12 hónap"}]},
                      "mark": {"type": "tick", "opacity": 0},
                      "encoding": {
                        "x": {"field": "g", "type": "nominal", "sort": null, "title": "* a tulajdonosok  több mint 50%-a belföldi/külföldi  magán, vagy jogi személy", "scale": {"type": "band", "paddingInner": 0, "paddingOuter": 0},
                          "axis": {"orient": "bottom", "domain": false, "labelAngle": 0, "tickBand": "extent", "tickSize": 72, "labelPadding": -12, "labelFontSize": 11, "labelOverlap": false, "titleFontSize": 8, "titleFontWeight": "bold", "titleAnchor": "start", "titleAlign": "left", "titleX": -41, "titlePadding": 24.5, "titleLimit": 1000}},
                        "y": {"datum": 0, "type": "quantitative", "title": null,
                          "axis": {"format": ".0%", "values": [0, 0.1, 0.2, 0.3, 0.4, 0.5, 0.6, 0.7, 0.8, 0.9, 1], "tickCount": 20, "tickSize": 4, "labelPadding": 4, "labelFontSize": 10.5, "grid": true, "labelOverlap": false, "minExtent": 48, "maxExtent": 48}}
                      }
                    }
                  ],
                  "resolve": {"scale": {"x": "independent"}, "axis": {"x": "independent"}}
                }
              ]
            }
          ]
        }
      ]
    },
    {
      "spacing": 14,
      "align": "none",
      "resolve": {"scale": {"color": "independent", "fill": "independent", "shape": "independent"}},
      "hconcat": [
        {"width": 1, "height": 310, "data": {"values": []}, "mark": "point", "encoding": {}},
        {
          "spacing": 25,
          "align": "none",
          "resolve": {"scale": {"color": "independent", "fill": "independent", "shape": "independent"}},
          "hconcat": [
            {
              "spacing": 2,
              "align": "none",
              "resolve": {"scale": {"color": "independent", "fill": "independent", "shape": "independent"}},
              "vconcat": [
                {
                  "width": 397, "height": 45,
                  "data": {"values": [{"t": "5. ábra: Vállalatok  belföldi piaci  pozíciójának  változása  az elmúlt 1\névben méret, tulajdonosi  szerkezet és beszállítói  kapcsolatok  alapján"}]},
                  "layer": [
                    {"mark": {"type": "rect", "x": -47, "x2": 406, "y": 0, "y2": 45, "color": "#c8c8c8"}, "encoding": {}},
                    {"mark": {"type": "text", "x": 179.5, "y": 22.5, "fontWeight": "bold", "fontSize": 13.6, "color": "#111111", "lineBreak": "\n", "lineHeight": 17}, "encoding": {"text": {"field": "t", "type": "nominal"}}}
                  ]
                },
                {
                  "width": 397, "height": 110,
                  "layer": [
                    {
                      "data": {"name": "c5"},
                      "transform": [{"stack": "v", "groupby": ["k"], "sort": [{"field": "s", "order": "descending"}], "as": ["v0", "v1"]}],
                      "layer": [
                        {
                          "mark": {"type": "bar"},
                          "encoding": {
                            "x": {"field": "k", "type": "nominal", "sort": null, "title": null, "scale": {"paddingInner": 0.18, "paddingOuter": 0.1},
                              "axis": {"labelAngle": -90, "labelAlign": "right", "labelBaseline": "middle", "labelExpr": "split(datum.label, '~')", "labelFontSize": 10.5, "labelLineHeight": 12, "tickBand": "extent", "tickSize": 75, "labelPadding": -68, "labelOverlap": false, "labelLimit": 0}},
                            "y": {"field": "v0", "type": "quantitative", "title": null, "scale": {"domain": [0, 1], "nice": false},
                              "axis": {"format": ".0%", "values": [0, 0.1, 0.2, 0.3, 0.4, 0.5, 0.6, 0.7, 0.8, 0.9, 1], "tickCount": 20, "tickSize": 4, "labelPadding": 4, "labelFontSize": 10, "grid": true, "labelOverlap": false, "minExtent": 47, "maxExtent": 47}},
                            "y2": {"field": "v1"},
                            "color": {"field": "s", "type": "nominal",
                              "scale": {"domain": ["Romlott", "Nem változott", "Javult"], "range": ["#1f4a87", "#bfbfbf", "#c0504d"]},
                              "legend": {"orient": "none", "legendX": -8.4, "legendY": 237.5, "direction": "horizontal", "title": null, "symbolType": "square", "symbolSize": 64, "symbolStrokeWidth": 0, "labelFontSize": 11, "labelFontWeight": "bold", "columnPadding": 36, "padding": 0, "labelOffset": 3}}
                          }
                        },
                        {
                          "transform": [{"fold": ["v0", "v1"], "as": ["end", "pos"]}],
                          "mark": {"type": "text", "fontWeight": "bold", "fontSize": 9},
                          "encoding": {
                            "x": {"field": "k", "type": "nominal", "sort": null, "title": null},
                            "y": {"field": "pos", "type": "quantitative", "aggregate": "mean", "title": null},
                            "text": {"field": "v", "type": "quantitative", "format": ".1%"},
                            "fill": {"field": "s", "type": "nominal", "scale": {"domain": ["Romlott", "Nem változott", "Javult"], "range": ["#ffffff", "#222222", "#ffffff"]}, "legend": null}
                          }
                        }
                      ]
                    },
                    {
                      "data": {"name": "g5"},
                      "transform": [{"stack": "n", "as": ["g0", "g1"]}],
                      "mark": {"type": "tick", "opacity": 0},
                      "encoding": {
                        "x": {"field": "g0", "type": "quantitative", "title": null, "scale": {"domain": [0, 8], "nice": false, "zero": false},
                          "axis": {"orient": "bottom", "values": [0, 4, 6, 8], "tickCount": 20, "labels": false, "domain": false, "grid": false, "tickSize": 109}},
                        "y": {"datum": 0, "type": "quantitative", "title": null,
                          "axis": {"format": ".0%", "values": [0, 0.1, 0.2, 0.3, 0.4, 0.5, 0.6, 0.7, 0.8, 0.9, 1], "tickCount": 20, "tickSize": 4, "labelPadding": 4, "labelFontSize": 10, "grid": true, "labelOverlap": false, "minExtent": 47, "maxExtent": 47}}
                      }
                    },
                    {
                      "data": {"name": "g5"},
                      "transform": [{"stack": "n", "as": ["g0", "g1"]}],
                      "mark": {"type": "tick", "opacity": 0},
                      "encoding": {
                        "x": {"field": "g1", "type": "quantitative", "title": ["* a tulajdonosok  több mint 50%-a", "belföldi/külföldi  magán, vagy jogi személy"], "scale": {"domain": [0, 8], "nice": false, "zero": false},
                          "axis": {"orient": "bottom", "values": [2, 5, 7], "tickCount": 20, "labelExpr": "datum.value == 2 ? ['Vállalati', 'méret'] : datum.value == 5 ? ['Tulajdonosi', 'szerkezet'] : ['Beszállítói', 'kapcsolatok']", "ticks": false, "domain": false, "grid": false, "labelPadding": 83, "labelFontSize": 11, "labelLineHeight": 13.7, "labelAngle": 0, "labelOverlap": false, "labelFlush": false, "titleFontSize": 8, "titleFontWeight": "bold", "titleAnchor": "end", "titleAlign": "right", "titleX": 399, "titlePadding": 9.5, "titleLineHeight": 12, "titleLimit": 1000}},
                        "y": {"datum": 0, "type": "quantitative", "title": null,
                          "axis": {"format": ".0%", "values": [0, 0.1, 0.2, 0.3, 0.4, 0.5, 0.6, 0.7, 0.8, 0.9, 1], "tickCount": 20, "tickSize": 4, "labelPadding": 4, "labelFontSize": 10, "grid": true, "labelOverlap": false, "minExtent": 47, "maxExtent": 47}}
                      }
                    }
                  ],
                  "resolve": {"scale": {"x": "independent"}, "axis": {"x": "independent"}}
                }
              ]
            },
            {
              "spacing": 5.8,
              "align": "none",
              "resolve": {"scale": {"color": "independent", "fill": "independent", "shape": "independent"}},
              "vconcat": [
                {
                  "width": 401, "height": 44,
                  "data": {"values": [{"t": "6. ábra: A beszállítói  kapcsolatok  szerepe a belföldi  értékesítés\nnövekedésében az elmúlt  12 hónap,  ill. a következő  1 év során"}]},
                  "layer": [
                    {"mark": {"type": "rect", "x": -46, "x2": 406, "y": 0, "y2": 44, "color": "#c8c8c8"}, "encoding": {}},
                    {"mark": {"type": "text", "x": 180, "y": 22, "fontWeight": "bold", "fontSize": 13.6, "color": "#111111", "lineBreak": "\n", "lineHeight": 17}, "encoding": {"text": {"field": "t", "type": "nominal"}}}
                  ]
                },
                {
                  "width": 401, "height": 140,
                  "layer": [
                    {
                      "data": {"name": "c6"},
                      "transform": [{"stack": "v", "groupby": ["k", "s"], "as": ["v0", "v1"]}],
                      "layer": [
                        {
                          "mark": {"type": "bar"},
                          "encoding": {
                            "x": {"field": "k", "type": "nominal", "sort": null, "title": null, "scale": {"paddingInner": 0.1, "paddingOuter": 0.05},
                              "axis": {"labelAngle": 0, "labelAlign": "center", "labelBaseline": "top", "labelExpr": "split(slice(datum.label, 2), '~')", "labelFontSize": 10.5, "labelLineHeight": 13.4, "tickBand": "extent", "tickSize": 88, "labelPadding": -79.6, "labelOverlap": false, "labelLimit": 0}},
                            "xOffset": {"field": "s", "type": "nominal", "scale": {"paddingInner": 0, "paddingOuter": 0}},
                            "y": {"field": "v0", "type": "quantitative", "title": null, "scale": {"domain": [0, 0.5], "nice": false},
                              "axis": {"format": ".0%", "values": [0, 0.1, 0.2, 0.3, 0.4, 0.5], "tickCount": 20, "tickSize": 4, "labelPadding": 5, "labelFontSize": 11, "grid": true, "labelOverlap": false, "minExtent": 46, "maxExtent": 46}},
                            "y2": {"field": "v1"},
                            "color": {"field": "s", "type": "nominal", "scale": {"domain": ["Beszállító", "Nem beszállító"], "range": ["#1f4a87", "#d9d9d9"]},
                              "legend": {"orient": "none", "legendX": 178.7, "legendY": 8, "direction": "horizontal", "title": null, "symbolType": "square", "symbolSize": 40, "symbolStrokeWidth": 0, "labelFontSize": 11, "labelFontWeight": "bold", "columnPadding": 11, "padding": 0, "labelOffset": 3}}
                          }
                        },
                        {
                          "transform": [{"fold": ["v0", "v1"], "as": ["end", "pos"]}],
                          "mark": {"type": "text", "angle": 270, "fontWeight": "bold", "fontSize": 9},
                          "encoding": {
                            "x": {"field": "k", "type": "nominal", "sort": null, "title": null},
                            "xOffset": {"field": "s", "type": "nominal"},
                            "y": {"field": "pos", "type": "quantitative", "aggregate": "mean", "title": null},
                            "text": {"field": "v", "type": "quantitative", "format": ".1%"},
                            "fill": {"field": "s", "type": "nominal", "scale": {"domain": ["Beszállító", "Nem beszállító"], "range": ["#ffffff", "#222222"]}, "legend": null}
                          }
                        }
                      ]
                    },
                    {
                      "data": {"values": [{"g": "Mikrovállalat"}, {"g": "Kisvállalat"}, {"g": "Középvállalat"}]},
                      "mark": {"type": "tick", "opacity": 0},
                      "encoding": {
                        "x": {"field": "g", "type": "nominal", "sort": null, "title": null, "scale": {"type": "band", "paddingInner": 0, "paddingOuter": 0},
                          "axis": {"orient": "bottom", "domain": false, "labelAngle": 0, "tickBand": "extent", "tickSize": 108, "labelPadding": -12, "labelFontSize": 11, "labelOverlap": false}},
                        "y": {"datum": 0, "type": "quantitative", "title": null,
                          "axis": {"format": ".0%", "values": [0, 0.1, 0.2, 0.3, 0.4, 0.5], "tickCount": 20, "tickSize": 4, "labelPadding": 5, "labelFontSize": 11, "grid": true, "labelOverlap": false, "minExtent": 46, "maxExtent": 46}}
                      }
                    }
                  ],
                  "resolve": {"scale": {"x": "independent"}, "axis": {"x": "independent"}}
                }
              ]
            }
          ]
        }
      ]
    },
    {
      "width": 960, "height": 39,
      "data": {"values": [{}]},
      "layer": [
        {"mark": {"type": "rect", "x": 3, "x2": 957, "y": 12, "y2": 15, "color": "#000000"}, "encoding": {}},
        {"mark": {"type": "rect", "x": 3, "x2": 957, "y": 15, "y2": 16.5, "color": "#a0a0a0"}, "encoding": {}},
        {"mark": {"type": "text", "x": 15, "y": 26, "align": "left", "baseline": "middle", "text": "MFB-INDIKÁTOR", "font": "DejaVu Sans", "fontWeight": "bold", "fontSize": 16, "color": "#4f81bd"}, "encoding": {}},
        {"mark": {"type": "text", "x": 465, "y": 30, "align": "center", "baseline": "middle", "text": "4", "fontSize": 17, "color": "#222222"}, "encoding": {}},
        {"mark": {"type": "text", "x": 952, "y": 26, "align": "right", "baseline": "middle", "text": "2013. tavasz", "font": "DejaVu Sans", "fontWeight": "bold", "fontSize": 16, "color": "#4f81bd"}, "encoding": {}}
      ]
    }
  ],
  "config": {
    "font": "Lato",
    "locale": {"number": {"decimal": ",", "thousands": " ", "grouping": [3], "currency": ["", ""], "minus": "-"}},
    "view": {"stroke": null},
    "axis": {"labelFont": "Lato", "titleFont": "Lato", "labelFontWeight": "bold", "labelColor": "#1a1a1a", "titleColor": "#1a1a1a", "domainColor": "#8c8c8c", "tickColor": "#8c8c8c", "gridColor": "#a6a6a6"},
    "legend": {"labelFont": "Lato", "labelColor": "#1a1a1a"},
    "title": {"font": "Lato"},
    "text": {"font": "Lato"}
  }
}
